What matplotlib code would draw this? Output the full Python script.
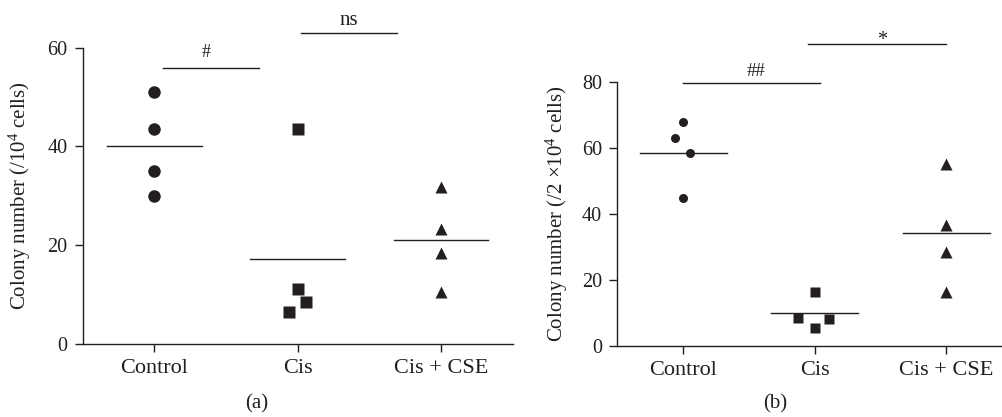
import matplotlib
matplotlib.use("Agg")
import matplotlib.pyplot as plt
import numpy as np

plt.rcParams["font.family"] = ["Liberation Serif", "DejaVu Serif"]
plt.rcParams["mathtext.fontset"] = "custom"
plt.rcParams["mathtext.rm"] = "Liberation Serif"
plt.rcParams["mathtext.it"] = "Liberation Serif:italic"

INK = "#231f20"

# --- datos ---
grupos = ["Control", "Cis", "Cis + CSE"]

# panel (a): colonias / 10^4 celulas
a_control = [51.0, 43.5, 35.0, 30.0]
a_cis = [43.5, 11.1, 8.5, 6.4]
a_cis_cse = [31.8, 23.3, 18.4, 10.5]
a_medias = [40.0, 17.3, 21.1]

# panel (b): colonias / 2x10^4 celulas
b_control = [67.8, 62.8, 58.4, 44.8]
b_cis = [16.4, 8.5, 8.1, 5.5]
b_cis_cse = [55.1, 36.5, 28.3, 16.3]
b_medias = [58.4, 9.9, 34.2]

# desplazamiento horizontal de puntos solapados
a_jit = [[0, 0, 0, 0], [0, 0, 0.06, -0.06], [0, 0, 0, 0]]
b_jit = [[0, -0.06, 0.05, 0], [0, -0.13, 0.11, 0], [0, 0, 0, 0]]

# barras de significancia: (x0, x1, y, texto)
a_sig = [(0.063, 0.733, 55.9, "#"), (1.023, 1.69, 63.0, "ns")]
b_sig = [(0.0, 1.04, 79.5, "##"), (0.95, 2.0, 91.5, "*")]

fig = plt.figure(figsize=(10.03, 4.17), dpi=100)
ax_a = fig.add_axes([0.0825, 0.175, 0.4287, 0.7106])
ax_b = fig.add_axes([0.6155, 0.171, 0.3845, 0.633])

marcadores = ["o", "s", "^"]


def dibujar(ax, series, jit, medias, sig, ylim, yticks, ylabel, msizes, half, xlim):
    for i, (vals, m) in enumerate(zip(series, marcadores)):
        xs = i + np.array(jit[i])
        ax.plot(xs, vals, ls="none", marker=m, ms=msizes[i], color=INK,
                mec="none", clip_on=False, zorder=3)
        ax.plot([i - half, i + half], [medias[i], medias[i]], color=INK, lw=1.0)
    for x0, x1, y, txt in sig:
        ax.plot([x0, x1], [y, y], color=INK, lw=1.0, clip_on=False)
    ax.set_xlim(*xlim)
    ax.set_ylim(*ylim)
    ax.set_yticks(yticks)
    ax.set_xticks(range(len(grupos)))
    ax.set_xticklabels(grupos)
    ax.set_ylabel(ylabel, fontsize=15, color=INK)
    for s in ["top", "right"]:
        ax.spines[s].set_visible(False)
    for s in ["left", "bottom"]:
        ax.spines[s].set_color(INK)
        ax.spines[s].set_linewidth(1.0)
    ax.tick_params(direction="out", length=6, width=1.0, color=INK,
                   labelsize=14.5, labelcolor=INK)
    ax.tick_params(axis="x", pad=5, labelsize=16)
    ax.tick_params(axis="y", pad=5)


dibujar(ax_a, [a_control, a_cis, a_cis_cse], a_jit, a_medias, a_sig,
        (0, 60), [0, 20, 40, 60], "Colony number (/10$^4$ cells)",
        [9, 9, 9], 0.33, (-0.5, 2.5))
dibujar(ax_b, [b_control, b_cis, b_cis_cse], b_jit, b_medias, b_sig,
        (0, 80), [0, 20, 40, 60, 80], "Colony number (/2 \u00d710$^4$ cells)",
        [6.5, 7.6, 8], 0.33, (-0.5, 2.43))

ax_a.yaxis.set_label_coords(-0.116, 0.5)
ax_b.yaxis.set_label_coords(-0.123, 0.5)

# textos de significancia
ax_a.text(0.36, 58.2, "#", ha="center", va="baseline", fontsize=13, color=INK)
ax_a.text(1.36, 64.6, "ns", ha="center", va="baseline", fontsize=15, color=INK)
ax_b.text(0.55, 81.7, "##", ha="center", va="baseline", fontsize=13.5, color=INK)
ax_b.text(1.51, 95.5, "*", ha="center", va="top", fontsize=14.5, color=INK)

fig.text(256.7 / 1003, 1 - 404 / 417, "(a)", ha="center", va="center",
         fontsize=15, color=INK)
fig.text(775 / 1003, 1 - 404 / 417, "(b)", ha="center", va="center",
         fontsize=15, color=INK)

fig.savefig("out.png", dpi=100)
